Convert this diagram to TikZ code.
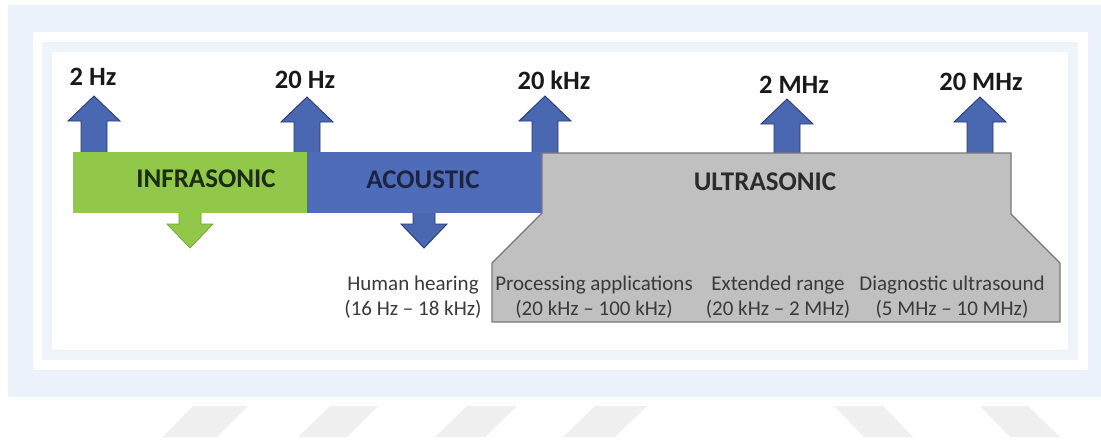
\documentclass[tikz,border=0pt]{standalone}
\usepackage{fontspec}
\setmainfont{Carlito}
\definecolor{outerblue}{RGB}{236,242,251}
\definecolor{bandblue}{RGB}{238,244,249}
\definecolor{wmgray}{RGB}{239,239,239}
\definecolor{arrfill}{RGB}{74,104,178}
\definecolor{arrline}{RGB}{42,58,110}
\definecolor{barblue}{RGB}{79,108,184}
\definecolor{bargreen}{RGB}{146,200,74}
\definecolor{greenline}{RGB}{110,160,50}
\definecolor{usgray}{RGB}{192,192,192}
\definecolor{usline}{RGB}{120,120,120}
\definecolor{infratext}{RGB}{28,44,14}
\definecolor{acoutext}{RGB}{28,36,68}
\definecolor{ustext}{RGB}{43,43,43}
\definecolor{smalltext}{RGB}{58,58,58}
\begin{document}
\begin{tikzpicture}[x=1pt,y=-1pt,
  freqlabel/.style={inner sep=0pt,text=black!90,font=\fontsize{26.5}{30}\selectfont\bfseries},
  bandlabel/.style={inner sep=0pt,font=\fontsize{27}{30}\selectfont\bfseries},
  smalllabel/.style={inner sep=0pt,align=center,text=smalltext,font=\fontsize{21}{25}\selectfont},
  upshape/.style={fill=arrfill,draw=arrline,line width=0.9pt,line join=miter},
  downgreen/.style={fill=bargreen,draw=greenline,line width=0.7pt},
  downblue/.style={fill=arrfill,draw=arrline,line width=0.9pt},
  uparr/.pic={\path[upshape] (-13,58) -- (-13,25) -- (-26,25) -- (0,0) -- (26,25) -- (13,25) -- (13,58) -- cycle;},
  downarrg/.pic={\path[downgreen] (-11,-37) -- (-11,-24) -- (-23,-24) -- (0,0) -- (23,-24) -- (11,-24) -- (11,-37) -- cycle;},
  downarrb/.pic={\path[downblue] (-11,-37) -- (-11,-24) -- (-23,-24) -- (0,0) -- (23,-24) -- (11,-24) -- (11,-37) -- cycle;}
]
\useasboundingbox (0,0) rectangle (1101,442);
% frames
\fill[outerblue] (8,5) rectangle (1101,397);
\fill[white] (33,32) rectangle (1088,370);
\fill[bandblue] (42,42) rectangle (1078,360);
\fill[white] (52,52) rectangle (1068,350);
% watermark stripes
\fill[wmgray] (193,406) -- (248,406) -- (217,437) -- (163,437) -- cycle;
\fill[wmgray] (330,406) -- (378,406) -- (347,437) -- (298,437) -- cycle;
\fill[wmgray] (467,406) -- (517,406) -- (485,437) -- (435,437) -- cycle;
\fill[wmgray] (595,406) -- (647,406) -- (615,437) -- (563,437) -- cycle;
\fill[wmgray] (834,406) -- (883,406) -- (913,437) -- (864,437) -- cycle;
\fill[wmgray] (980,406) -- (1028,406) -- (1060,437) -- (1010,437) -- cycle;
% up arrows
\pic at (94,96) {uparr};
\pic at (307,97) {uparr};
\pic at (545,96) {uparr};
\pic at (787,99) {uparr};
\pic at (980,97) {uparr};
% down arrows
\pic at (190,248) {downarrg};
\pic at (424,248) {downarrb};
% bars
\fill[bargreen] (73,152) rectangle (307,213);
\fill[barblue] (307,152) rectangle (542,213);
\path[fill=usgray,draw=usline,line width=1.2pt,line join=miter]
  (542,153) -- (1011,153) -- (1011,214) -- (1060,263) -- (1060,322)
  -- (492,322) -- (492,263) -- (542,213) -- cycle;
% frequency labels
\node[freqlabel] (f1) at (93,77) {2 Hz};
\node[freqlabel] (f2) at (305,80) {20 Hz};
\node[freqlabel] (f3) at (554,80) {20 kHz};
\node[freqlabel] (f4) at (794,85) {2 MHz};
\node[freqlabel] (f5) at (981,82) {20 MHz};
% band labels
\node[bandlabel,text=infratext] (infra) at (206,179) {INFRASONIC};
\node[bandlabel,text=acoutext] (acou) at (423,180) {ACOUSTIC};
\node[bandlabel,text=ustext] (ultra) at (765,182) {ULTRASONIC};
% bottom labels
\node[smalllabel] (hh) at (413,297) {Human hearing\\(16 Hz -- 18 kHz)};
\node[smalllabel] (pa) at (594,297) {Processing applications\\(20 kHz -- 100 kHz)};
\node[smalllabel] (er) at (778,297) {Extended range\\(20 kHz -- 2 MHz)};
\node[smalllabel] (du) at (952,297) {Diagnostic ultrasound\\(5 MHz -- 10 MHz)};
\end{tikzpicture}
\end{document}
